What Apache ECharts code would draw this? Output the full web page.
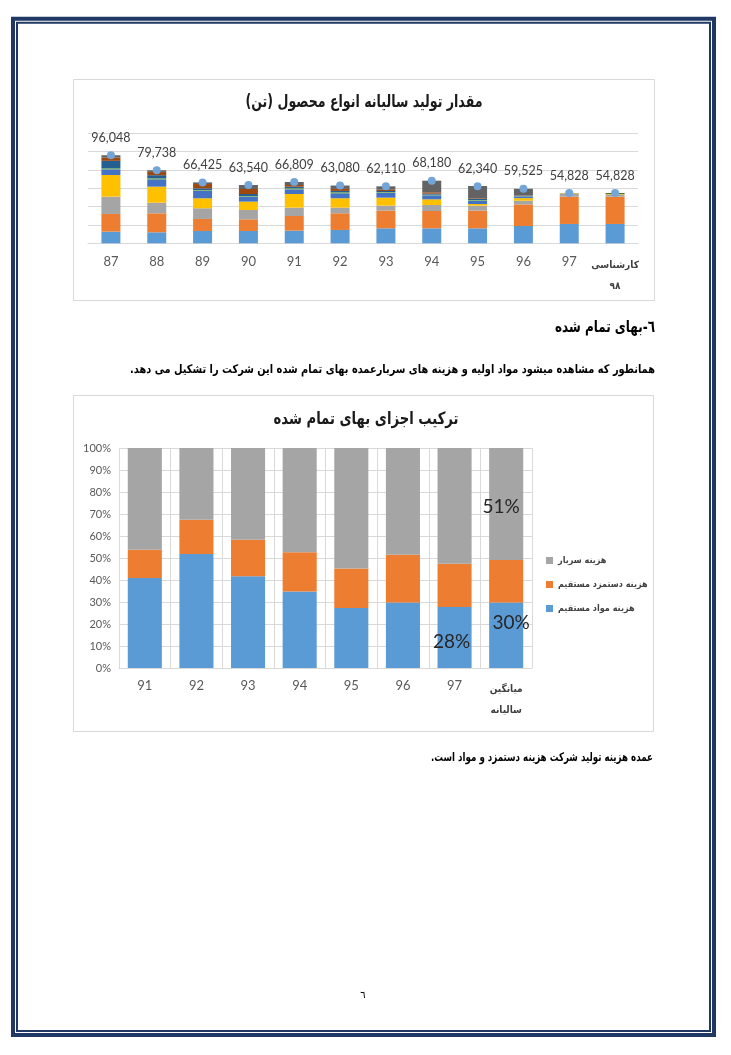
<!DOCTYPE html>
<html><head><meta charset="utf-8">
<script src="https://cdn.jsdelivr.net/npm/echarts@6/dist/echarts.min.js"></script>
<style>html,body{margin:0;padding:0;background:#fff}#c{width:731px;height:1055px}</style>
</head><body><div id="c" dir="rtl"></div>
<script>
// ---------- Chart 1 data: annual production by product type (tons) ----------
const years1 = ['87','88','89','90','91','92','93','94','95','96','97','کارشناسی\n۹۸'];
const prod1  = [12700,12000,13450,13450,13800,14550,16350,16350,16350,18900,21100,21100];
const prod2  = [19300,20700,13100,12700,16000,18200,19300,18900,19300,23500,29800,29800];
const prod3  = [18900,11600,11650,10200, 9100, 6200, 5450, 6550, 5450, 4000, 2900, 2200];
const prod4  = [23600,17500,10900, 9100,14900,10200, 8700, 6200, 1800, 2900,  700,  500];
const prod5  = [ 6200, 8000, 8350, 5450, 5100, 5450, 5450, 4350, 3650, 1800,  200,    0];
const prod6  = [ 1100, 1100,  700,  700, 1100, 1100,  700,  700,  700,  350,    0,    0];
const prod7  = [ 8150, 3400, 1800, 2200, 1800, 1450, 1100, 1100, 1100,  700,    0,    0];
const prod8  = [ 3600, 3600, 4700, 5450, 1800, 2200, 1450, 1450,  700,  350,    0,    0];
const prod9  = [ 2500, 1800, 1800, 4350, 3300, 3650, 3650,12700,13450, 7000,  100,    0];
const prod10 = [    0,    0,    0,    0,    0,    0,    0,    0,    0,    0,    0, 1200];
const totals = [96048,79738,66425,63540,66809,63080,62110,68180,62340,59525,54828,54828];

// ---------- Chart 2 data: cost composition (%) ----------
const years2    = ['91','92','93','94','95','96','97','میانگین\nسالیانه'];
const materials = [40.9,51.8,41.7,34.8,27.3,29.8,27.7,29.8];
const labor     = [12.9,15.6,16.6,17.8,17.9,21.7,19.7,19.3];
const overhead  = [46.2,32.6,41.7,47.4,54.8,48.5,52.6,50.9];
const seriesNames2 = ['هزینه مواد مستقیم','هزینه دستمزد مستقیم','هزینه سربار'];
const materialsLabelIdx = [6,7];
const overheadLabelIdx = [7];

// ---------- Texts ----------
const title1 = 'مقدار تولید سالیانه انواع محصول (تن)';
const title2 = 'ترکیب اجزای بهای تمام شده';
const heading = '٦-بهای تمام شده';
const para1 = 'همانطور که مشاهده میشود مواد اولیه و هزینه های سربارعمده بهای تمام شده این شرکت را تشکیل می دهد.';
const para2 = 'عمده هزینه تولید شرکت هزینه دستمزد و مواد است.';
const pageNo = '٦';

const FA = "'DejaVu Sans', sans-serif";
const FAC = "'DejaVu Sans Condensed', 'DejaVu Sans', sans-serif";
const NUM = "Lato, 'Open Sans', sans-serif";
const NAVY = '#203864';
const prodSeries = [prod1,prod2,prod3,prod4,prod5,prod6,prod7,prod8,prod9,prod10];
const prodColors = ['#5B9BD5','#ED7D31','#A5A5A5','#FFC000','#4472C4','#70AD47','#255E91','#9E480E','#636363','#4E6B22'];

const mctx = document.createElement('canvas').getContext('2d');
function fitText(text, font, x, y, targetW, align, fill){
  mctx.font = font;
  const w = mctx.measureText(text).width;
  const s = Math.min(1, targetW / w);
  return {type:'text', x:x, y:y, scaleX:s, silent:true,
    style:{text:text, font:font, fill:fill||'#000', textAlign:align, textVerticalAlign:'middle'}};
}

function catLabel(v){
  if (v.indexOf('\n') >= 0) return v.split('\n').map(s => '{fa|' + s + '}').join('\n');
  return v;
}

const chart = echarts.init(document.getElementById('c'), null, {renderer:'canvas'});

const series = [];
prodSeries.forEach((arr, i) => {
  series.push({
    type:'bar', name:'p'+(i+1), stack:'prod', xAxisIndex:0, yAxisIndex:0,
    data:arr, barWidth:19, itemStyle:{color:prodColors[i]}, animation:false
  });
});
series.push({
  type:'line', name:'total', xAxisIndex:0, yAxisIndex:0, data:totals,
  symbol:'circle', symbolSize:8, itemStyle:{color:'#74A5D8'}, lineStyle:{opacity:0},
  z:5, animation:false,
  label:{show:true, position:'top', distance:7, fontFamily:NUM, fontSize:12.5, color:'#404040',
    formatter: p => p.value.toLocaleString('en-US')}
});

const matData = materials.map((v,i) => materialsLabelIdx.indexOf(i) >= 0
  ? {value:v, label:{show:true, offset: i===6 ? [-3,4] : [5,-12]}} : v);
const ohData = overhead.map((v,i) => overheadLabelIdx.indexOf(i) >= 0
  ? {value:v, label:{show:true, offset:[-5,3]}} : v);
const lbl2 = {show:false, position:'inside', fontFamily:NUM, fontSize:19, color:'#262626',
  formatter: p => Math.round(p.value) + '%'};
series.push({type:'bar', name:seriesNames2[0], stack:'cost', xAxisIndex:1, yAxisIndex:1,
  data:matData, barWidth:'66%', itemStyle:{color:'#5B9BD5'}, label:lbl2, animation:false});
series.push({type:'bar', name:seriesNames2[1], stack:'cost', xAxisIndex:1, yAxisIndex:1,
  data:labor, barWidth:'66%', itemStyle:{color:'#ED7D31'}, animation:false});
series.push({type:'bar', name:seriesNames2[2], stack:'cost', xAxisIndex:1, yAxisIndex:1,
  data:ohData, barWidth:'66%', itemStyle:{color:'#A5A5A5'}, label:lbl2, animation:false});

const axisRich = {fa:{fontFamily:FAC, fontSize:10, fontWeight:'bold', color:'#404040', lineHeight:21}};

const option = {
  backgroundColor:'#fff',
  animation:false,
  grid:[
    {left:88, width:550, top:133.3, height:110},
    {left:119, width:413, top:448, height:220}
  ],
  xAxis:[
    {type:'category', gridIndex:0, data:years1,
     axisLine:{lineStyle:{color:'#D9D9D9'}}, axisTick:{show:false},
     axisLabel:{interval:0, margin:12, fontFamily:NUM, fontSize:13, color:'#595959', formatter:catLabel, rich:axisRich}},
    {type:'category', gridIndex:1, data:years2,
     axisLine:{lineStyle:{color:'#D9D9D9'}}, axisTick:{show:false},
     splitLine:{show:true, interval:0, lineStyle:{color:'#D9D9D9'}},
     axisLabel:{interval:0, margin:11, fontFamily:NUM, fontSize:13, color:'#595959', formatter:catLabel, rich:axisRich}}
  ],
  yAxis:[
    {type:'value', gridIndex:0, min:0, max:120000, interval:20000,
     axisLabel:{show:false}, axisLine:{show:false}, axisTick:{show:false},
     splitLine:{lineStyle:{color:'#D9D9D9'}}},
    {type:'value', gridIndex:1, min:0, max:100, interval:10,
     axisLabel:{formatter:'{value}%', fontFamily:NUM, fontSize:11, color:'#595959', margin:8},
     axisLine:{show:false}, axisTick:{show:false},
     splitLine:{lineStyle:{color:'#D9D9D9'}}}
  ],
  legend:{
    orient:'vertical', left:546, top:556, padding:0, itemWidth:7, itemHeight:7, itemGap:15,
    icon:'rect', data:[seriesNames2[2], seriesNames2[1], seriesNames2[0]],
    textStyle:{fontFamily:FAC, fontSize:9, fontWeight:'bold', color:'#404040'}
  },
  series:series,
  graphic:[
    {type:'rect', shape:{x:13, y:18.7, width:701, height:1016.3}, style:{fill:null, stroke:NAVY, lineWidth:4}, silent:true},
    {type:'rect', shape:{x:17, y:22.8, width:693, height:1008.2}, style:{fill:null, stroke:NAVY, lineWidth:2}, silent:true},
    {type:'rect', shape:{x:73.5, y:79.5, width:581, height:221}, style:{fill:null, stroke:'#D9D9D9', lineWidth:1}, silent:true, z:-1},
    {type:'rect', shape:{x:73.5, y:395.5, width:580, height:336}, style:{fill:null, stroke:'#D9D9D9', lineWidth:1}, silent:true, z:-1},
    fitText(title1, "bold 17px "+FA, 364, 103, 237, 'center', '#1a1a1a'),
    fitText(title2, "bold 17px "+FA, 366, 420, 185, 'center', '#1a1a1a'),
    fitText(heading, "bold 16px "+FA, 655, 328, 100, 'right'),
    fitText(para1, "bold 12px "+FA, 655, 370, 525, 'right'),
    fitText(para2, "bold 12px "+FA, 653, 758, 222, 'right'),
    {type:'text', x:363, y:995, silent:true, style:{text:pageNo, font:"10px "+FA, fill:'#000', textAlign:'center', textVerticalAlign:'middle'}}
  ]
};
chart.setOption(option);
</script></body></html>
